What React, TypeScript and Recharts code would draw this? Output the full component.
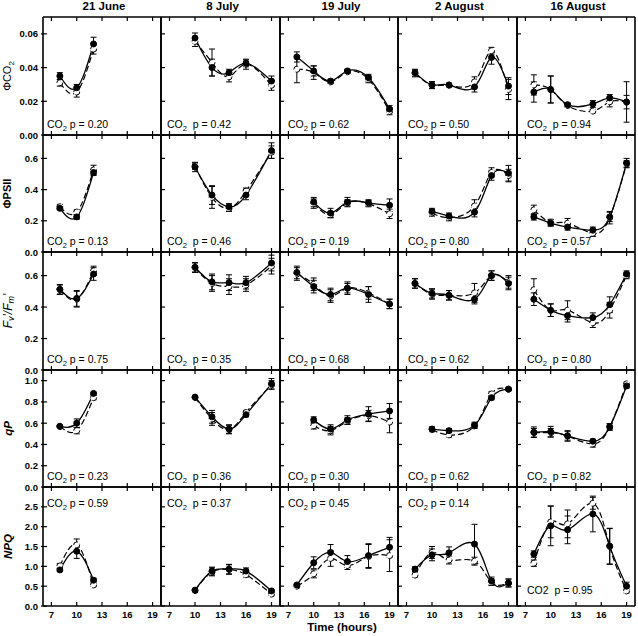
import React from 'react';
import { LineChart, Line, XAxis, YAxis, ErrorBar } from 'recharts';

const FONT = '"Liberation Sans", Arial, Helvetica, sans-serif';

const dates = ['21 June', '8 July', '19 July', '2 August', '16 August'];
const hours = [
  [8, 10, 12],
  [10, 12, 14, 16, 19],
  [8, 10, 12, 14, 16.5, 19],
  [8, 10, 12, 15, 17, 19],
  [8, 10, 12, 15, 17, 19],
];
const xTicks = [7, 10, 13, 16, 19];

// ΦCO2
const phiCO2Filled = [
  [0.035, 0.028, 0.054],
  [0.0575, 0.04, 0.037, 0.0425, 0.032],
  [0.0463, 0.038, 0.032, 0.038, 0.034, 0.0154],
  [0.037, 0.0297, 0.0297, 0.0285, 0.046, 0.029],
  [0.0255, 0.027, 0.018, 0.0184, 0.022, 0.0196],
];
const phiCO2Open = [
  [0.031, 0.0255, 0.051],
  [0.0555, 0.043, 0.0345, 0.042, 0.0295],
  [0.039, 0.037, 0.0315, 0.0375, 0.033, 0.014],
  [0.0365, 0.0295, 0.0295, 0.0315, 0.05, 0.027],
  [0.0297, 0.027, 0.0175, 0.0142, 0.0197, 0.0195],
];
const phiCO2FilledErr = [
  [0.002, 0.002, 0.004],
  [0.003, 0.005, 0.002, 0.002, 0.003],
  [0.003, 0.003, 0.001, 0.001, 0.002, 0.002],
  [0.002, 0.002, 0.001, 0.003, 0.004, 0.005],
  [0.006, 0.008, 0.001, 0.002, 0.002, 0.012],
];
const phiCO2OpenErr = [
  [0.002, 0.003, 0.003],
  [0.003, 0.008, 0.003, 0.003, 0.003],
  [0.008, 0.004, 0.001, 0.001, 0.002, 0.002],
  [0.002, 0.002, 0.001, 0.003, 0.002, 0.006],
  [0.006, 0.008, 0.001, 0.001, 0.003, 0.004],
];
const phiCO2P = ['0.20', '0.42', '0.62', '0.50', '0.94'];

// ΦPSII
const phiPSIIFilled = [
  [0.28, 0.225, 0.51],
  [0.545, 0.365, 0.29, 0.365, 0.65],
  [null, 0.32, 0.25, 0.32, 0.315, 0.3],
  [null, 0.26, 0.23, 0.255, 0.49, 0.505],
  [0.225, 0.185, 0.16, 0.14, 0.225, 0.57],
];
const phiPSIIOpen = [
  [0.29, 0.256, 0.526],
  [0.55, 0.35, 0.28, 0.39, 0.64],
  [null, 0.31, 0.24, 0.315, 0.31, 0.245],
  [null, 0.25, 0.22, 0.295, 0.51, 0.49],
  [0.27, 0.19, 0.185, 0.12, 0.22, 0.565],
];
const phiPSIIFilledErr = [
  [0.01, 0.015, 0.02],
  [0.03, 0.06, 0.02, 0.03, 0.05],
  [0, 0.03, 0.03, 0.03, 0.02, 0.04],
  [0, 0.02, 0.02, 0.03, 0.03, 0.05],
  [0.02, 0.02, 0.02, 0.02, 0.03, 0.03],
];
const phiPSIIOpenErr = [
  [0.015, 0.015, 0.03],
  [0.02, 0.07, 0.02, 0.02, 0.04],
  [0, 0.03, 0.02, 0.02, 0.02, 0.03],
  [0, 0.02, 0.02, 0.04, 0.03, 0.04],
  [0.03, 0.02, 0.03, 0.02, 0.04, 0.02],
];
const phiPSIIP = ['0.13', '0.46', '0.19', '0.80', '0.57'];

// Fv'/Fm'
const fvfmFilled = [
  [0.513, 0.455, 0.61],
  [0.653, 0.56, 0.555, 0.555, 0.68],
  [0.62, 0.53, 0.48, 0.52, 0.48, 0.42],
  [0.55, 0.487, 0.475, 0.45, 0.6, 0.55],
  [0.45, 0.38, 0.345, 0.333, 0.415, 0.61],
];
const fvfmOpen = [
  [0.51, 0.45, 0.63],
  [0.65, 0.55, 0.53, 0.54, 0.66],
  [0.61, 0.545, 0.47, 0.52, 0.49, 0.42],
  [0.55, 0.48, 0.475, 0.49, 0.6, 0.56],
  [0.51, 0.38, 0.38, 0.3, 0.38, 0.6],
];
const fvfmFilledErr = [
  [0.03, 0.05, 0.04],
  [0.03, 0.05, 0.05, 0.04, 0.05],
  [0.04, 0.04, 0.04, 0.04, 0.05, 0.03],
  [0.03, 0.03, 0.03, 0.03, 0.03, 0.04],
  [0.04, 0.04, 0.04, 0.03, 0.05, 0.02],
];
const fvfmOpenErr = [
  [0.03, 0.05, 0.03],
  [0.03, 0.05, 0.05, 0.04, 0.05],
  [0.04, 0.04, 0.04, 0.03, 0.04, 0.03],
  [0.03, 0.03, 0.03, 0.06, 0.03, 0.04],
  [0.07, 0.04, 0.06, 0.03, 0.05, 0.02],
];
const fvfmP = ['0.75', '0.35', '0.68', '0.62', '0.80'];

// qP
const qPFilled = [
  [0.57, 0.6, 0.88],
  [0.845, 0.66, 0.545, 0.68, 0.97],
  [null, 0.63, 0.545, 0.63, 0.685, 0.715],
  [null, 0.545, 0.53, 0.58, 0.84, 0.92],
  [0.515, 0.52, 0.48, 0.43, 0.565, 0.95],
];
const qPOpen = [
  [0.57, 0.53, 0.84],
  [0.84, 0.64, 0.54, 0.7, 0.96],
  [null, 0.575, 0.53, 0.62, 0.67, 0.61],
  [null, 0.54, 0.49, 0.575, 0.875, 0.92],
  [0.51, 0.51, 0.48, 0.405, 0.565, 0.97],
];
const qPFilledErr = [
  [0.01, 0.04, 0.01],
  [0.01, 0.06, 0.04, 0.02, 0.05],
  [0, 0.03, 0.04, 0.04, 0.07, 0.07],
  [0, 0.02, 0.02, 0.03, 0.02, 0.01],
  [0.05, 0.05, 0.05, 0.02, 0.03, 0.02],
];
const qPOpenErr = [
  [0.01, 0.03, 0.02],
  [0.01, 0.06, 0.04, 0.02, 0.04],
  [0, 0.03, 0.04, 0.03, 0.05, 0.1],
  [0, 0.02, 0.02, 0.02, 0.02, 0.01],
  [0.04, 0.04, 0.04, 0.03, 0.03, 0.01],
];
const qPP = ['0.23', '0.36', '0.30', '0.62', '0.82'];

// NPQ
const npqFilled = [
  [0.91, 1.38, 0.65],
  [0.4, 0.88, 0.93, 0.88, 0.38],
  [0.53, 1.09, 1.35, 1.12, 1.27, 1.48],
  [0.93, 1.29, 1.34, 1.56, 0.63, 0.58],
  [1.31, 2.02, 1.92, 2.32, 1.51, 0.5],
];
const npqOpen = [
  [1.01, 1.54, 0.53],
  [0.39, 0.86, 0.92, 0.79, 0.3],
  [0.5, 0.81, 1.2, 1.02, 1.25, 1.27],
  [0.78, 1.35, 1.16, 1.13, 0.6, 0.58],
  [1.08, 2.12, 2.07, 2.59, 1.5, 0.38],
];
const npqFilledErr = [
  [0.04, 0.18, 0.05],
  [0.03, 0.1, 0.12, 0.08, 0.03],
  [0.04, 0.15, 0.2, 0.15, 0.3, 0.25],
  [0.06, 0.15, 0.15, 0.5, 0.1, 0.1],
  [0.08, 0.5, 0.35, 0.45, 0.45, 0.1],
];
const npqOpenErr = [
  [0.06, 0.15, 0.04],
  [0.03, 0.1, 0.12, 0.06, 0.03],
  [0.04, 0.1, 0.2, 0.1, 0.3, 0.4],
  [0.05, 0.15, 0.1, 0.1, 0.08, 0.1],
  [0.08, 0.4, 0.35, 0.15, 0.45, 0.05],
];
const npqP = ['0.59', '0.37', '0.45', '0.14', '0.95'];

const rows = [
  { domain: [0, 0.07], ticks: [0, 0.02, 0.04, 0.06], digits: 2, filled: phiCO2Filled, open: phiCO2Open, filledErr: phiCO2FilledErr, openErr: phiCO2OpenErr, p: phiCO2P },
  { domain: [0, 0.75], ticks: [0, 0.2, 0.4, 0.6], digits: 1, filled: phiPSIIFilled, open: phiPSIIOpen, filledErr: phiPSIIFilledErr, openErr: phiPSIIOpenErr, p: phiPSIIP },
  { domain: [0, 0.75], ticks: [0, 0.2, 0.4, 0.6], digits: 1, filled: fvfmFilled, open: fvfmOpen, filledErr: fvfmFilledErr, openErr: fvfmOpenErr, p: fvfmP },
  { domain: [0, 1.1], ticks: [0, 0.2, 0.4, 0.6, 0.8, 1.0], digits: 1, filled: qPFilled, open: qPOpen, filledErr: qPFilledErr, openErr: qPOpenErr, p: qPP },
  { domain: [0, 3], ticks: [0, 0.5, 1.0, 1.5, 2.0, 2.5], digits: 1, filled: npqFilled, open: npqOpen, filledErr: npqFilledErr, openErr: npqOpenErr, p: npqP },
];

// panel edges
const colX = [43, 161, 280, 398, 517, 635];
const rowY = [17, 135, 252, 370, 487, 606];
const PAD = 30;
const noteDx = [4, 6, 8, 10, 10];

const frame = { stroke: '#000', strokeWidth: 1.6 };
const tickLbl = { fontFamily: FONT, fontWeight: 700, fontSize: 9.5, fill: '#000' };
const TL = 4;

function Panel({ r, c }: { r: number; c: number }) {
  const row = rows[r];
  const w = colX[c + 1] - colX[c];
  const h = rowY[r + 1] - rowY[r];
  const data = hours[c]
    .map((hr, i) => ({
      h: hr,
      f: row.filled[c][i],
      o: row.open[c][i],
      ef: row.filledErr[c][i],
      eo: row.openErr[c][i],
    }))
    .filter((d) => d.f != null);
  const showX = r === rows.length - 1;
  const showY = c === 0;
  const m = PAD - 1;

  return (
    <div style={{ position: 'absolute', left: colX[c] - PAD, top: rowY[r] - PAD }}>
      <LineChart
        width={w + 2 * PAD}
        height={h + 2 * PAD}
        data={data}
        margin={{ top: m, right: m, bottom: m, left: m }}
      >
        <XAxis
          xAxisId="b"
          type="number"
          dataKey="h"
          domain={[6, 20]}
          ticks={xTicks}
          interval={0}
          orientation="bottom"
          height={1}
          axisLine={frame}
          tickLine={false}
          tickSize={0}
          tickMargin={0}
          tick={(p: any) => (
            <g>
              <line x1={p.x} y1={p.y} x2={p.x} y2={p.y - TL} stroke="#000" strokeWidth={1.2} />
              {showX && (
                <text x={p.x} y={p.y + 12} textAnchor="middle" style={tickLbl}>
                  {p.payload.value}
                </text>
              )}
            </g>
          )}
        />
        <XAxis
          xAxisId="t"
          type="number"
          dataKey="h"
          domain={[6, 20]}
          ticks={xTicks}
          interval={0}
          orientation="top"
          height={1}
          axisLine={frame}
          tickLine={false}
          tickSize={0}
          tickMargin={0}
          tick={(p: any) => <line x1={p.x} y1={p.y} x2={p.x} y2={p.y + TL} stroke="#000" strokeWidth={1.2} />}
        />
        <YAxis
          yAxisId="l"
          type="number"
          domain={row.domain}
          ticks={row.ticks}
          interval={0}
          width={1}
          axisLine={frame}
          tickLine={false}
          tickSize={0}
          tickMargin={0}
          tick={(p: any) => (
            <g>
              <line x1={p.x - (showY ? 2 : 0)} y1={p.y} x2={p.x + TL} y2={p.y} stroke="#000" strokeWidth={1.2} />
              {showY && (
                <text x={p.x - 5} y={p.y + 3.5} textAnchor="end" style={tickLbl}>
                  {Number(p.payload.value).toFixed(row.digits)}
                </text>
              )}
            </g>
          )}
        />
        <YAxis
          yAxisId="r"
          orientation="right"
          type="number"
          domain={row.domain}
          ticks={row.ticks}
          interval={0}
          width={1}
          axisLine={frame}
          tickLine={false}
          tickSize={0}
          tickMargin={0}
          tick={(p: any) => <line x1={p.x} y1={p.y} x2={p.x - TL} y2={p.y} stroke="#000" strokeWidth={1.2} />}
        />
        <Line
          xAxisId="b"
          yAxisId="l"
          type="natural"
          dataKey="o"
          stroke="#000"
          strokeWidth={1.2}
          strokeDasharray="6 3"
          dot={{ r: 3, fill: '#fff', stroke: '#000', strokeWidth: 1 }}
          activeDot={false}
          isAnimationActive={false}
        >
          <ErrorBar dataKey="eo" width={3} stroke="#000" strokeWidth={1} />
        </Line>
        <Line
          xAxisId="b"
          yAxisId="l"
          type="natural"
          dataKey="f"
          stroke="#000"
          strokeWidth={1.3}
          dot={{ r: 3, fill: '#000', stroke: '#000', strokeWidth: 1 }}
          activeDot={false}
          isAnimationActive={false}
        >
          <ErrorBar dataKey="ef" width={3} stroke="#000" strokeWidth={1} />
        </Line>
      </LineChart>
    </div>
  );
}

const noteStyle = { fontFamily: FONT, fontSize: 10.5, fill: '#000', whiteSpace: 'pre' as const };

function Note({ x, y, p, wide, plain }: { x: number; y: number; p: string; wide: boolean; plain: boolean }) {
  return (
    <text x={x} y={y} style={noteStyle}>
      <tspan>CO</tspan>
      {plain ? <tspan>2</tspan> : <tspan fontSize={7.5} dy={3}>2</tspan>}
      <tspan dy={plain ? 0 : -3}>{wide ? '  ' : ' '}p = {p}</tspan>
    </text>
  );
}

function Overlay() {
  const titleStyle = { fontFamily: FONT, fontWeight: 700, fontSize: 11.5, fill: '#000' };
  const yTitle = (r: number) => (rowY[r] + rowY[r + 1]) / 2;
  return (
    <svg width={638} height={636} style={{ position: 'absolute', left: 0, top: 0, pointerEvents: 'none' }}>
      {dates.map((d, c) => (
        <text key={d} x={(colX[c] + colX[c + 1]) / 2 + 2} y={10} textAnchor="middle" style={titleStyle}>
          {d}
        </text>
      ))}
      <text transform={`translate(11,${yTitle(0)}) rotate(-90)`} textAnchor="middle" style={{ fontFamily: FONT, fontSize: 11, fill: '#000' }}>
        ΦCO<tspan fontSize={8} dy={3}>2</tspan>
      </text>
      <text transform={`translate(11,${yTitle(1)}) rotate(-90)`} textAnchor="middle" style={{ fontFamily: FONT, fontSize: 11, fontWeight: 700, fill: '#000' }}>
        ΦPSII
      </text>
      <text transform={`translate(12,${yTitle(2)}) rotate(-90)`} textAnchor="middle" style={{ fontFamily: FONT, fontSize: 12, fontStyle: 'italic', fill: '#000' }}>
        F<tspan fontSize={9} dy={2}>v</tspan>
        <tspan dy={-2}>'/F</tspan>
        <tspan fontSize={9} dy={2}>m</tspan>
        <tspan dy={-2}>'</tspan>
      </text>
      <text transform={`translate(12,${yTitle(3)}) rotate(-90)`} textAnchor="middle" style={{ fontFamily: FONT, fontSize: 11.5, fontStyle: 'italic', fontWeight: 700, fill: '#000' }}>
        qP
      </text>
      <text transform={`translate(12,${yTitle(4)}) rotate(-90)`} textAnchor="middle" style={{ fontFamily: FONT, fontSize: 11.5, fontStyle: 'italic', fontWeight: 700, fill: '#000' }}>
        NPQ
      </text>
      <text x={342} y={631} textAnchor="middle" style={titleStyle}>
        Time (hours)
      </text>
      {rows.map((row, r) =>
        dates.map((_, c) => {
          const last = r === rows.length - 1;
          const plain = last && c === 4;
          const y = !last ? rowY[r + 1] - 7 : plain ? rowY[5] - 12 : rowY[4] + 20;
          return (
            <Note
              key={`${r}-${c}`}
              x={colX[c] + noteDx[c]}
              y={y}
              p={row.p[c]}
              wide={c === 1 || c === 4}
              plain={plain}
            />
          );
        })
      )}
    </svg>
  );
}

export default function App() {
  return (
    <div style={{ position: 'absolute', left: 0, top: 0, width: 638, height: 636, background: '#fff' }}>
      {rows.map((_, r) => dates.map((_, c) => <Panel key={`${r}-${c}`} r={r} c={c} />))}
      <Overlay />
    </div>
  );
}
